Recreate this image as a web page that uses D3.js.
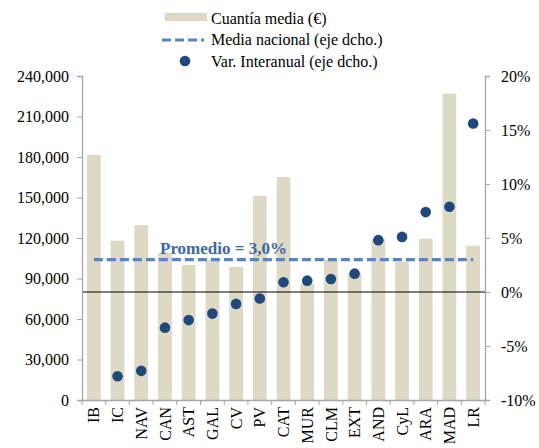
<!DOCTYPE html>
<html>
<head>
<meta charset="utf-8">
<script src="https://cdn.jsdelivr.net/npm/d3@7"></script>
<style>
  body { margin: 0; background: #fff; }
  text { font-family: "Liberation Serif", "Times New Roman", serif; }
</style>
</head>
<body>
<svg id="chartSvg" width="539" height="448"></svg>
<script>
const regions = ["IB", "IC", "NAV", "CAN", "AST", "GAL", "CV", "PV", "CAT", "MUR", "CLM", "EXT", "AND", "CyL", "ARA", "MAD", "LR"];
const cuantiaMedia = [181500, 118000, 129500, 109000, 100000, 104000, 98500, 151300, 165200, 86000, 103700, 94300, 119000, 102500, 119500, 227000, 114300];
const varInteranual = [null, -7.8, -7.3, -3.3, -2.6, -2.0, -1.1, -0.6, 0.9, 1.05, 1.2, 1.7, 4.8, 5.1, 7.4, 7.9, 15.6];
const mediaNacional = 3.0;
const leftTicks = [0, 30000, 60000, 90000, 120000, 150000, 180000, 210000, 240000];
const rightTicks = [-10, -5, 0, 5, 10, 15, 20];

const svg = d3.select("#chartSvg");
const plotLeft = 82, plotRight = 485, plotTop = 76, plotBottom = 400;

const barColor = "#ddd9c4";
const lineColor = "#5585c4";
const dotColor = "#1f497d";
const axisColor = "#a6a6a6";

let xScale = d3.scaleBand().domain(regions).range([plotLeft, plotRight]).paddingInner(0.42).paddingOuter(0.21);
let yLeft = d3.scaleLinear().domain([0, 240000]).range([plotBottom, plotTop]);
let yRight = d3.scaleLinear().domain([-10, 20]).range([plotBottom, plotTop]);

function drawBars() {
  svg.selectAll(".bar")
    .data(regions)
    .enter().append("rect")
    .attr("class", "bar")
    .attr("x", function (d) { return xScale(d); })
    .attr("y", function (d, i) { return yLeft(cuantiaMedia[i]); })
    .attr("width", xScale.bandwidth())
    .attr("height", function (d, i) { return plotBottom - yLeft(cuantiaMedia[i]); })
    .style("fill", barColor);
}

function drawAxes() {
  // left axis
  let gl = svg.append("g")
    .attr("transform", "translate(" + plotLeft + ",0)")
    .call(d3.axisLeft(yLeft).tickValues(leftTicks).tickSize(5).tickPadding(8).tickFormat(d3.format(",")));
  // right axis
  let gr = svg.append("g")
    .attr("transform", "translate(" + plotRight + ",0)")
    .call(d3.axisRight(yRight).tickValues(rightTicks).tickSize(5).tickPadding(11).tickFormat(function (d) { return d + "%"; }));
  // x axis, ticks sit between the bars
  let bandStep = xScale.step();
  let gx = svg.append("g")
    .attr("transform", "translate(0," + plotBottom + ")")
    .call(d3.axisBottom(xScale).tickSize(0).tickPadding(8));
  gx.selectAll(".tick text")
    .attr("transform", "rotate(-90)")
    .attr("text-anchor", "end")
    .attr("x", -7)
    .attr("y", 0)
    .attr("dy", "0.35em");
  gx.selectAll(".sep")
    .data(d3.range(regions.length + 1))
    .enter().append("line")
    .attr("class", "sep")
    .attr("x1", function (i) { return plotLeft + i * bandStep; })
    .attr("x2", function (i) { return plotLeft + i * bandStep; })
    .attr("y1", 0)
    .attr("y2", 5)
    .attr("stroke", axisColor);

  [gl, gr, gx].forEach(function (g) {
    g.select(".domain").attr("stroke", axisColor).attr("stroke-width", 1.3);
    g.selectAll(".tick line").attr("stroke", axisColor);
    g.selectAll(".tick text").attr("fill", "#000").style("font-size", "16px")
      .style("font-family", "'Liberation Serif', 'Times New Roman', serif");
  });
}

function drawLines() {
  // zero line of the right axis
  svg.append("line")
    .attr("x1", plotLeft).attr("x2", plotRight)
    .attr("y1", yRight(0)).attr("y2", yRight(0))
    .attr("stroke", "#000").attr("stroke-width", 1.2);

  let x0 = xScale(regions[0]) + xScale.bandwidth() / 2;
  let x1 = xScale(regions[regions.length - 1]) + xScale.bandwidth() / 2;
  svg.append("line")
    .attr("x1", x0).attr("x2", x1)
    .attr("y1", yRight(mediaNacional)).attr("y2", yRight(mediaNacional))
    .attr("stroke", lineColor).attr("stroke-width", 3.2)
    .attr("stroke-dasharray", "9,4");

  svg.append("text")
    .attr("x", 160)
    .attr("y", yRight(mediaNacional) - 6)
    .attr("fill", "#3c68a6")
    .style("font-size", "17px")
    .style("font-weight", "bold")
    .text("Promedio = 3,0%");
}

function drawDots() {
  let pts = regions.map(function (r, i) { return { r: r, v: varInteranual[i] }; })
    .filter(function (d) { return d.v !== null; });
  svg.selectAll(".dot")
    .data(pts)
    .enter().append("circle")
    .attr("class", "dot")
    .attr("cx", function (d) { return xScale(d.r) + xScale.bandwidth() / 2; })
    .attr("cy", function (d) { return yRight(d.v); })
    .attr("r", 5.3)
    .style("fill", dotColor);
}

function drawLegend() {
  let lg = svg.append("g");
  lg.append("rect").attr("x", 165).attr("y", 13).attr("width", 42).attr("height", 8).style("fill", barColor);
  lg.append("line").attr("x1", 162).attr("x2", 204).attr("y1", 40).attr("y2", 40)
    .attr("stroke", lineColor).attr("stroke-width", 3.2).attr("stroke-dasharray", "9,4");
  lg.append("circle").attr("cx", 185).attr("cy", 61).attr("r", 5.3).style("fill", dotColor);

  let labels = ["Cuantía media (€)", "Media nacional (eje dcho.)", "Var. Interanual (eje dcho.)"];
  lg.selectAll(".lgText")
    .data(labels)
    .enter().append("text")
    .attr("class", "lgText")
    .attr("x", 211)
    .attr("y", function (d, i) { return 18 + i * 21.5; })
    .attr("dy", "0.35em")
    .style("font-size", "16px")
    .text(function (d) { return d; });
}

drawBars();
drawLines();
drawDots();
drawAxes();
drawLegend();
</script>
</body>
</html>
